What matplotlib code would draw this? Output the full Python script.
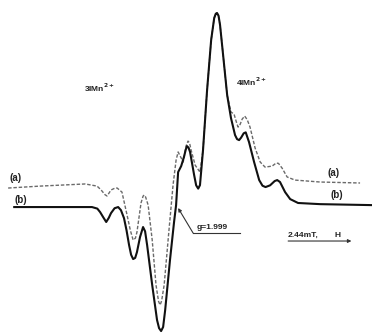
import matplotlib.pyplot as plt

# EPR spectra of the two samples, field offset from g=1.999 (mT) vs signal (a.u.)
field_b = [-6.37, -4.56, -3.31, -3.10, -2.99, -2.87, -2.75, -2.65, -2.56, -2.42,
           -2.28, -2.17, -2.05, -1.95, -1.85, -1.77, -1.69, -1.61, -1.54, -1.42,
           -1.30, -1.22, -1.14, -0.94, -0.75, -0.67, -0.59, -0.51, -0.43, -0.24,
           -0.08, 0.00, 0.08, 0.20, 0.31, 0.38, 0.43, 0.49, 0.55, 0.71,
           0.79, 0.87, 0.94, 1.06, 1.22, 1.38, 1.50, 1.56, 1.61, 1.67,
           1.73, 1.85, 2.01, 2.16, 2.32, 2.40, 2.48, 2.56, 2.66, 2.74,
           2.87, 3.07, 3.27, 3.40, 3.52, 3.70, 3.88, 3.98, 4.09, 4.29,
           4.49, 4.80, 5.67, 7.71]
signal_b = [0.0, 0.0, 0.0, -0.8, -2.6, -5.2, -7.7, -5.6, -3.1, -0.6,
            0.0, -1.6, -5.7, -12.0, -19.6, -24.6, -26.8, -26.2, -23.2, -15.5,
            -10.3, -12.5, -19.6, -40.2, -58.2, -62.4, -63.9, -61.8, -53.1, -27.3,
            -7.7, 1.0, 18.0, 21.1, 25.8, 29.6, 31.4, 30.6, 28.4, 16.5,
            11.2, 9.5, 11.3, 29.4, 60.3, 86.1, 97.4, 99.6, 100.0, 98.6,
            93.8, 78.4, 57.7, 45.9, 37.1, 35.0, 34.5, 35.8, 38.0, 38.5,
            33.5, 23.2, 13.9, 11.0, 10.3, 11.2, 13.4, 13.9, 12.9, 7.7,
            4.1, 2.1, 1.5, 1.0]

field_a = [-6.61, -5.35, -3.58, -3.11, -2.95, -2.80, -2.72, -2.64, -2.56, -2.40,
           -2.32, -2.13, -1.93, -1.80, -1.69, -1.60, -1.54, -1.38, -1.30, -1.26,
           -1.20, -1.10, -0.94, -0.79, -0.69, -0.63, -0.57, -0.47, -0.28, -0.12,
           0.00, 0.08, 0.20, 0.28, 0.39, 0.47, 0.53, 0.59, 0.75, 0.94,
           1.06, 1.22, 1.38, 1.50, 1.56, 1.61, 1.67, 1.73, 1.85, 2.01,
           2.16, 2.28, 2.38, 2.44, 2.52, 2.60, 2.70, 2.80, 2.91, 3.11,
           3.31, 3.50, 3.78, 3.94, 4.03, 4.17, 4.37, 4.68, 5.67, 7.24]
signal_a = [9.8, 10.8, 11.9, 10.8, 8.8, 6.4, 5.7, 7.2, 8.8, 9.8,
            9.8, 7.7, -4.1, -12.0, -17.0, -16.0, -12.9, 2.1, 5.6, 6.2,
            5.2, 1.0, -17.0, -40.2, -48.6, -50.5, -48.4, -40.2, -11.9, 11.3,
            24.2, 28.4, 25.3, 23.2, 31.4, 34.0, 33.0, 29.4, 21.6, 18.0,
            29.4, 60.3, 86.1, 97.4, 99.6, 100.0, 98.6, 93.8, 78.4, 57.7,
            49.0, 47.9, 43.5, 41.2, 42.6, 45.3, 46.9, 45.0, 41.2, 30.4,
            23.2, 20.6, 21.1, 22.7, 22.5, 20.1, 15.5, 13.9, 12.9, 12.4]

fig = plt.figure(figsize=(3.72, 3.33), dpi=100)
ax = fig.add_axes([0, 0, 1, 1])
ax.set_xlim(-6.93, 7.71)
ax.set_ylim(-64.9, 106.7)
ax.axis('off')

ax.plot(field_a, signal_a, color='#6a6a6a', lw=1.0, ls=(0, (2.5, 1.3)),
        solid_joinstyle='round')
ax.plot(field_b, signal_b, color='#111111', lw=1.5, solid_joinstyle='round')

font = dict(family='Liberation Sans', fontsize=7, color='#222222', weight='bold')
small = dict(font, fontsize=6)
ax.text(-6.57, 14.9, '(a)', va='center', ha='left', **font)
ax.text(-6.37, 3.6, '(b)', va='center', ha='left', **font)
ax.text(5.94, 17.5, '(a)', va='center', ha='left', **font)
ax.text(6.06, 6.2, '(b)', va='center', ha='left', **font)

ax.text(-3.62, 58.5, r'3IMn$^{\mathbf{2+}}$', va='bottom', ha='left', **small)
ax.text(2.36, 61.5, r'4IMn$^{\mathbf{2+}}$', va='bottom', ha='left', **small)

# g-value marker
ax.annotate('', xy=(0.08, -0.5), xytext=(0.67, -13.4),
            arrowprops=dict(arrowstyle='-|>', color='#333333', lw=0.8,
                            mutation_scale=5, shrinkA=0, shrinkB=0))
ax.plot([0.67, 2.52], [-13.4, -13.4], color='#333333', lw=0.8)
ax.text(0.79, -12.2, 'g=1.999', va='bottom', ha='left', **small)

# field scale bar
ax.annotate('', xy=(6.90, -17.5), xytext=(4.41, -17.5),
            arrowprops=dict(arrowstyle='-|>', color='#333333', lw=0.8,
                            mutation_scale=5, shrinkA=0, shrinkB=0))
ax.text(4.41, -16.3, '2.44mT,', va='bottom', ha='left', **small)
ax.text(6.25, -16.3, 'H', va='bottom', ha='left', **small)

fig.savefig('out.png', dpi=100)
